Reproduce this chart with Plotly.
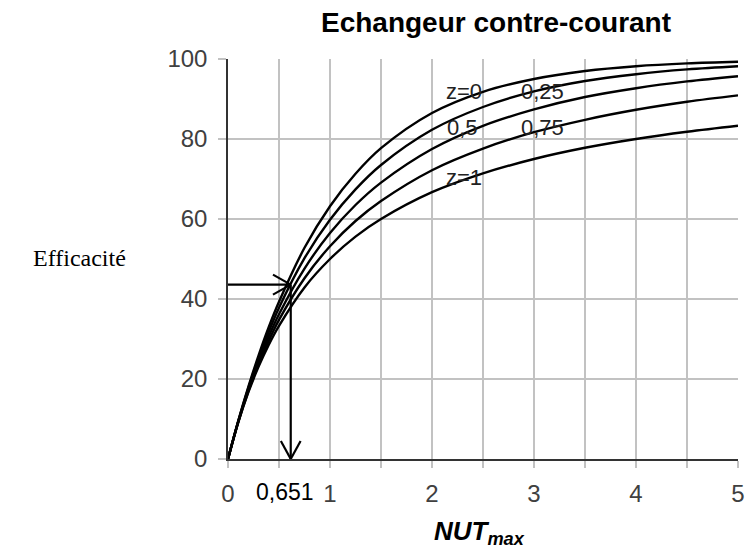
import plotly.graph_objects as go

# Data
ntu = [0, 0.1, 0.2, 0.3, 0.4, 0.5, 0.75, 1, 1.25, 1.5, 2, 2.5, 3, 3.5, 4, 4.5, 5]
eff_z0 = [0, 9.5, 18.1, 25.9, 33.0, 39.3, 52.8, 63.2, 71.3, 77.7, 86.5, 91.8, 95.0, 97.0, 98.2, 98.9, 99.3]
eff_z025 = [0, 9.4, 17.8, 25.2, 31.8, 37.8, 50.2, 59.8, 67.4, 73.5, 82.3, 88.0, 91.9, 94.5, 96.2, 97.4, 98.2]
eff_z05 = [0, 9.3, 17.4, 24.5, 30.7, 36.2, 47.6, 56.5, 63.5, 69.1, 77.5, 83.3, 87.4, 90.5, 92.7, 94.4, 95.7]
eff_z075 = [0, 9.2, 17.0, 23.8, 29.6, 34.8, 45.2, 53.2, 59.5, 64.5, 72.2, 77.6, 81.7, 84.8, 87.3, 89.3, 90.9]
eff_z1 = [0, 9.1, 16.7, 23.1, 28.6, 33.3, 42.9, 50.0, 55.6, 60.0, 66.7, 71.4, 75.0, 77.8, 80.0, 81.8, 83.3]

series = [eff_z0, eff_z025, eff_z05, eff_z075, eff_z1]
curve_labels = ["z=0", "0,25", "0,5", "0,75", "z=1"]
label_x = [2.31, 3.08, 2.30, 3.08, 2.31]
label_y = [91.8, 91.8, 82.8, 82.8, 70.3]

x_ticks = [0, 1, 2, 3, 4, 5]
y_ticks = [0, 20, 40, 60, 80, 100]

ntu_read = 0.615
eff_read = 43.6
ntu_read_label = "0,651"

W, H = 746, 547          # page body has an 8px margin in the browser
ML, MR, MT, MB = 220, 9, 51, 96
PW = W - ML - MR
PH = H - MT - MB

fig = go.Figure()
for ys in series:
    fig.add_trace(go.Scatter(x=ntu, y=ys, mode="lines", line=dict(color="black", width=2.4, shape="spline"),
                             showlegend=False, hoverinfo="skip"))

for t, lx, ly in zip(curve_labels, label_x, label_y):
    fig.add_annotation(x=lx, y=ly, text=t, showarrow=False,
                       font=dict(family="Liberation Sans, Arial", size=22, color="#222222"))

# arrows (V heads drawn as line pairs, sized in pixels)
xpx = PW / 5
ypx = PH / 100
shapes = [
    dict(x0=0, y0=eff_read, x1=ntu_read, y1=eff_read),
    dict(x0=ntu_read - 18 / xpx, y0=eff_read + 10 / ypx, x1=ntu_read, y1=eff_read),
    dict(x0=ntu_read - 18 / xpx, y0=eff_read - 10 / ypx, x1=ntu_read, y1=eff_read),
    dict(x0=ntu_read, y0=eff_read, x1=ntu_read, y1=0),
    dict(x0=ntu_read - 10 / xpx, y0=18 / ypx, x1=ntu_read, y1=0),
    dict(x0=ntu_read + 10 / xpx, y0=18 / ypx, x1=ntu_read, y1=0),
]
for s in shapes:
    s.update(type="line", xref="x", yref="y", line=dict(color="black", width=2.2), layer="above")
fig.update_layout(shapes=shapes)

fig.add_annotation(x=0.558, y=-(492 - 8 - (MT + PH)) / PH, xref="x", yref="paper", text=ntu_read_label,
                   showarrow=False, yanchor="middle",
                   font=dict(family="Liberation Sans, Arial", size=23, color="black"))

fig.add_annotation(x=(483 - 8 - ML) / PW, y=-(532 - 8 - (MT + PH)) / PH, xref="paper", yref="paper",
                   xanchor="center", yanchor="middle",
                   text="<b><i>NUT</i></b><sub><b><i>max</i></b></sub>", showarrow=False,
                   font=dict(family="Liberation Sans, Arial", size=26, color="black"))

fig.add_annotation(x=(127 - 8 - ML) / PW, y=(MT + PH - (258 - 8)) / PH, xref="paper", yref="paper",
                   text="Efficacité", showarrow=False, xanchor="right", yanchor="middle",
                   font=dict(family="Liberation Serif, Times New Roman", size=24, color="black"))

tickfont = dict(family="Liberation Sans, Arial", size=24, color="#404040")
fig.update_layout(
    width=W, height=H,
    margin=dict(l=ML, r=MR, t=MT, b=MB),
    paper_bgcolor="white", plot_bgcolor="white",
    title=dict(text="<b>Echangeur contre-courant</b>", x=(496 - 8) / W, xanchor="center",
               y=1 - (22 - 8) / H, yanchor="middle", yref="container",
               font=dict(family="Liberation Sans, Arial", size=28, color="black")),
    xaxis=dict(range=[0, 5], tickvals=x_ticks, ticktext=[str(v) for v in x_ticks],
               showgrid=True, gridcolor="#c2c2c2", gridwidth=2,
               minor=dict(dtick=0.5, showgrid=True, gridcolor="#c2c2c2", gridwidth=2,
                          ticks="outside", ticklen=7, tickcolor="#c2c2c2"),
               ticks="outside", ticklen=7, tickcolor="#c2c2c2", tickwidth=2,
               showline=True, linecolor="#333333", linewidth=1.5,
               zeroline=False, ticklabelstandoff=5, tickfont=tickfont),
    yaxis=dict(range=[0, 100], tickvals=y_ticks,
               showgrid=True, gridcolor="#c2c2c2", gridwidth=2,
               ticks="outside", ticklen=8, tickcolor="#c2c2c2", tickwidth=2,
               showline=True, linecolor="#333333", linewidth=1.5,
               zeroline=False, ticklabelstandoff=6, tickfont=tickfont),
)

fig.write_html("out.html")
